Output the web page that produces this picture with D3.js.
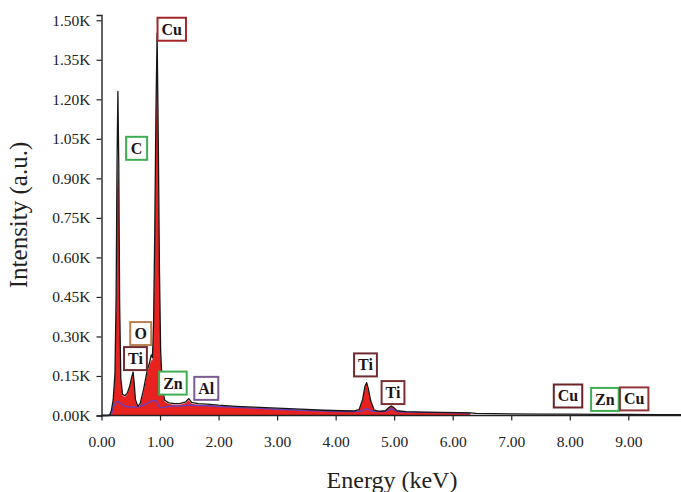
<!DOCTYPE html>
<html>
<head>
<meta charset="utf-8">
<script src="https://cdn.jsdelivr.net/npm/d3@7"></script>
<style>
  body { margin: 0; background: #fff; }
</style>
</head>
<body>
<script>
// EDS spectrum, counts in thousands
var energy = [0.00, 0.05, 0.10, 0.14, 0.17, 0.20, 0.23, 0.25, 0.265, 0.28, 0.295, 0.31, 0.33, 0.36,
  0.40, 0.44, 0.48, 0.51, 0.54, 0.56, 0.58, 0.62, 0.66, 0.72, 0.78, 0.82, 0.85, 0.87, 0.89,
  0.91, 0.93, 0.95, 0.97, 0.99, 1.01, 1.04, 1.08, 1.15, 1.25, 1.35, 1.44, 1.49, 1.54, 1.65,
  1.80, 2.00, 2.30, 2.60, 3.00, 3.40, 3.80, 4.10, 4.30, 4.40, 4.46, 4.50, 4.53, 4.56, 4.60,
  4.66, 4.75, 4.85, 4.92, 4.95, 4.98, 5.05, 5.20, 5.50, 5.80, 6.10, 6.30, 6.40, 6.70, 7.00,
  7.50, 8.00, 8.50, 9.00, 9.50, 9.90]

var measured = [0, 0, 0, 0.002, 0.02, 0.06, 0.16, 0.45, 0.95, 1.23, 0.95, 0.42, 0.14, 0.08,
  0.075, 0.085, 0.11, 0.14, 0.165, 0.12, 0.06, 0.035, 0.045, 0.10, 0.17, 0.20, 0.23, 0.22, 0.35,
  0.70, 1.15, 1.45, 1.05, 0.55, 0.25, 0.10, 0.058, 0.048, 0.045, 0.046, 0.052, 0.064, 0.05, 0.045,
  0.043, 0.039, 0.035, 0.032, 0.028, 0.024, 0.02, 0.018, 0.017, 0.022, 0.06, 0.11, 0.125, 0.10, 0.055,
  0.02, 0.016, 0.018, 0.032, 0.036, 0.032, 0.018, 0.015, 0.013, 0.012, 0.011, 0.010, 0.008, 0.007, 0.006,
  0.005, 0.005, 0.004, 0.004, 0.003, 0.003]

var fitted = [0, 0, 0, 0, 0.01, 0.05, 0.15, 0.40, 0.85, 0.98, 0.85, 0.38, 0.13, 0.075,
  0.07, 0.08, 0.105, 0.135, 0.16, 0.115, 0.055, 0.03, 0.04, 0.09, 0.16, 0.19, 0.21, 0.21, 0.33,
  0.65, 1.10, 1.40, 1.00, 0.52, 0.23, 0.09, 0.052, 0.044, 0.041, 0.042, 0.047, 0.058, 0.045, 0.041,
  0.04, 0.036, 0.032, 0.029, 0.025, 0.021, 0.018, 0.016, 0.015, 0.02, 0.055, 0.105, 0.12, 0.095, 0.05,
  0.018, 0.014, 0.016, 0.03, 0.034, 0.03, 0.016, 0.013, 0.012, 0.011, 0.01, 0.009, null, null, null,
  null, null, null, null, null, null]

var background = [0, 0, 0, 0, 0.005, 0.03, 0.045, 0.05, 0.052, 0.052, 0.05, 0.048, 0.045, 0.04,
  0.036, 0.033, 0.032, 0.032, 0.032, 0.032, 0.032, 0.033, 0.035, 0.04, 0.045, 0.05, 0.055, 0.057, 0.057,
  0.056, 0.055, 0.05, 0.04, 0.032, 0.03, 0.03, 0.032, 0.035, 0.036, 0.037, 0.038, 0.04, 0.039, 0.038,
  0.037, 0.034, 0.031, 0.028, 0.024, 0.02, 0.017, 0.015, 0.015, 0.016, 0.018, 0.024, 0.026, 0.024, 0.018,
  0.016, 0.015, 0.016, 0.022, 0.026, 0.022, 0.015, 0.013, 0.012, 0.011, 0.01, 0.009, null, null, null,
  null, null, null, null, null, null]

// peak labels: element, box centre (keV, K counts), border colour
var labelNames = ['Cu', 'C', 'O', 'Ti', 'Zn', 'Al', 'Ti', 'Ti', 'Cu', 'Zn', 'Cu']
var labelEnergy = [1.20, 0.60, 0.67, 0.58, 1.22, 1.79, 4.51, 4.98, 7.97, 8.60, 9.10]
var labelIntensity = [1.466, 1.014, 0.311, 0.216, 0.123, 0.103, 0.192, 0.087, 0.074, 0.061, 0.063]
var labelColors = ['#a3262b', '#3fae52', '#b9804f', '#6e2b30', '#3fae52', '#7b5b92', '#6e2b30', '#7a3034', '#6a2428', '#3fae52', '#93353a']

var xTicks = [0, 1, 2, 3, 4, 5, 6, 7, 8, 9]
var yTicks = [0, 0.15, 0.30, 0.45, 0.60, 0.75, 0.90, 1.05, 1.20, 1.35, 1.50]

var W = 681, H = 492
var FONT = "'Liberation Serif'"

var x = d3.scaleLinear().domain([0, 9.9]).range([101.5, 681])
var y = d3.scaleLinear().domain([0, 1.52]).range([415.5, 15])

var svg = d3.select('body').append('svg')
  .attr('width', W)
  .attr('height', H)
  .style('font-family', FONT)

var pts = energy.map(function (e, i) {
  return { e: e, m: measured[i], f: fitted[i], b: background[i] }
})

// red fit area
svg.append('path')
  .datum(pts)
  .attr('fill', '#e8221f')
  .attr('d', d3.area()
    .defined(function (d) { return d.f != null })
    .x(function (d) { return x(d.e) })
    .y0(y(0))
    .y1(function (d) { return y(d.f) }))

// background line
svg.append('path')
  .datum(pts)
  .attr('fill', 'none')
  .attr('stroke', '#6b3fc0')
  .attr('stroke-width', 1.4)
  .attr('d', d3.line()
    .defined(function (d) { return d.b != null })
    .x(function (d) { return x(d.e) })
    .y(function (d) { return y(d.b) }))

// measured spectrum
svg.append('path')
  .datum(pts)
  .attr('fill', 'none')
  .attr('stroke', '#151515')
  .attr('stroke-width', 1.3)
  .attr('stroke-linejoin', 'round')
  .attr('d', d3.line()
    .x(function (d) { return x(d.e) })
    .y(function (d) { return y(d.m) }))

// axes
var xAxis = svg.append('g')
  .attr('transform', 'translate(0,' + y(0) + ')')
  .call(d3.axisBottom(x).tickValues(xTicks).tickSize(5).tickPadding(15)
    .tickFormat(d3.format('.2f')))
var yAxis = svg.append('g')
  .attr('transform', 'translate(' + x(0) + ',0)')
  .call(d3.axisLeft(y).tickValues(yTicks).tickSize(5).tickPadding(6)
    .tickFormat(function (d) { return d3.format('.2f')(d) + 'K' }))

;[xAxis, yAxis].forEach(function (g) {
  g.attr('font-family', null)
  g.select('.domain').attr('stroke', '#222').attr('stroke-width', 1.4)
  g.selectAll('.tick line').attr('stroke', '#222').attr('stroke-width', 1.2)
  g.selectAll('.tick text')
    .attr('fill', '#222')
    .style('font-family', FONT)
    .style('font-size', '15.5px')
})
xAxis.select('.domain').attr('d', 'M' + x(0) + ',0H' + W)

// peak label boxes
labelNames.forEach(function (name, i) {
  var g = svg.append('g')
    .attr('transform', 'translate(' + x(labelEnergy[i]) + ',' + y(labelIntensity[i]) + ')')
  var rect = g.append('rect')
  var t = g.append('text')
    .attr('text-anchor', 'middle')
    .attr('dy', '0.34em')
    .attr('fill', '#1e1414')
    .style('font-family', FONT)
    .style('font-weight', 'bold')
    .style('font-size', '16px')
    .text(name)
  var bw = Math.max(t.node().getComputedTextLength() + 8, 21)
  rect.attr('x', -bw / 2).attr('y', -11.5)
    .attr('width', bw).attr('height', 23)
    .attr('fill', '#fff')
    .attr('stroke', labelColors[i])
    .attr('stroke-width', 2)
})

// axis titles
svg.append('text')
  .attr('x', 392)
  .attr('y', 488)
  .attr('text-anchor', 'middle')
  .attr('fill', '#222')
  .style('font-family', FONT)
  .style('font-size', '24px')
  .text('Energy (keV)')

svg.append('text')
  .attr('transform', 'translate(27,215) rotate(-90)')
  .attr('text-anchor', 'middle')
  .attr('fill', '#222')
  .style('font-family', FONT)
  .style('font-size', '25px')
  .text('Intensity (a.u.)')
</script>
</body>
</html>
